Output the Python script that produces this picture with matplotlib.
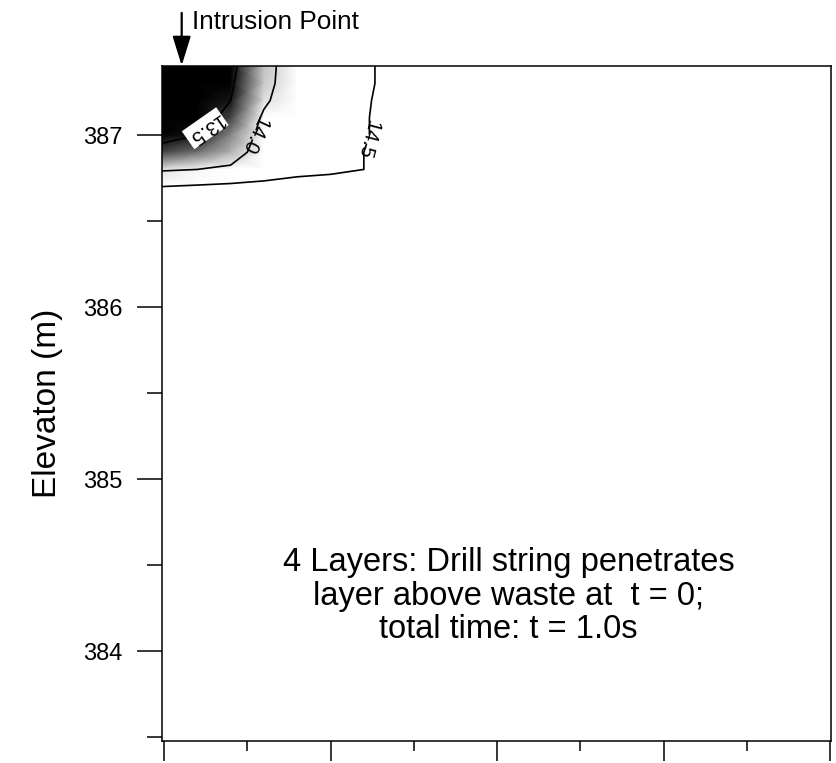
import numpy as np
import matplotlib.pyplot as plt

plt.rcParams['font.family'] = ['Liberation Sans', 'DejaVu Sans']

# Pressure field near the intrusion point
x_nodes = [-0.02, 0.2, 0.4, 0.6, 0.8, 1.0, 1.2, 1.4, 1.6]
y_nodes = [387.41, 387.30, 387.20, 387.10, 387.00, 386.90, 386.80, 386.70, 386.60]
pressure = [
    [12.90, 13.10, 13.40, 13.88, 14.20, 14.30, 14.45, 14.60, 14.70],
    [12.95, 13.15, 13.45, 13.90, 14.20, 14.30, 14.45, 14.60, 14.70],
    [13.05, 13.25, 13.50, 13.95, 14.22, 14.32, 14.47, 14.60, 14.70],
    [13.20, 13.35, 13.60, 14.05, 14.25, 14.35, 14.48, 14.60, 14.70],
    [13.40, 13.50, 13.75, 14.10, 14.28, 14.38, 14.48, 14.60, 14.70],
    [13.60, 13.70, 13.85, 14.15, 14.30, 14.40, 14.50, 14.60, 14.70],
    [13.95, 14.00, 14.05, 14.20, 14.35, 14.42, 14.50, 14.60, 14.70],
    [14.50, 14.55, 14.60, 14.65, 14.70, 14.70, 14.70, 14.70, 14.70],
    [14.75, 14.75, 14.75, 14.75, 14.75, 14.75, 14.75, 14.75, 14.75],
]
contour_levels = [13.5, 14.0, 14.5]
label_spots = [(0.28, 387.03), (0.55, 387.00), (1.19, 386.98)]
label_angles = [-145, -115, -105]

y_major = [384, 385, 386, 387]
y_minor = [383.5, 384.5, 385.5, 386.5]
x_major = [0, 1, 2, 3, 4]
x_minor = [0.5, 1.5, 2.5, 3.5]

note = '4 Layers: Drill string penetrates\nlayer above waste at  t = 0;\ntotal time: t = 1.0s'

fig = plt.figure(figsize=(8.37, 7.63), dpi=100)
ax = fig.add_axes([0.193, 0.0288, 0.7993, 0.8853])

X, Y = np.meshgrid(x_nodes, y_nodes)
P = np.array(pressure)

ax.pcolormesh(X, Y, P, cmap='gray', vmin=13.45, vmax=14.02, shading='gouraud', zorder=1)
cs = ax.contour(X, Y, P, levels=contour_levels, colors='k', linewidths=1.2, zorder=2)
labels = ax.clabel(cs, fmt='%.1f', fontsize=14.5, inline=True, manual=label_spots, inline_spacing=3)
for t, ang in zip(labels, label_angles):
    t.set_rotation(ang)
labels[0].set_bbox(dict(facecolor='white', edgecolor='none', pad=1))

ax.set_xlim(-0.015, 4.003)
ax.set_ylim(383.477, 387.404)

ax.set_yticks(y_major)
ax.set_yticks(y_minor, minor=True)
ax.set_xticks(x_major)
ax.set_xticks(x_minor, minor=True)
ax.set_xticklabels([])
ax.tick_params(axis='y', which='major', length=18, width=1.1, pad=10, labelsize=17)
ax.tick_params(axis='y', which='minor', length=11, width=1.1)
ax.tick_params(axis='x', which='major', length=14.5, width=1.1)
ax.tick_params(axis='x', which='minor', length=7, width=1.1)
for s in ax.spines.values():
    s.set_linewidth(1.1)

ax.set_ylabel('Elevaton (m)', fontsize=24)
ax.yaxis.set_label_coords(-0.148, 0.5)

# intrusion point marker above the plot
ax.annotate('', xy=(0.106, 387.404), xytext=(0.106, 387.71),
            arrowprops=dict(arrowstyle='-|>,head_width=0.28,head_length=0.9',
                            mutation_scale=20, lw=1.6, color='k',
                            shrinkA=0, shrinkB=0),
            annotation_clip=False)
ax.text(0.168, 387.66, 'Intrusion Point', fontsize=18.8, ha='left', va='center', clip_on=False)

ax.text(2.07, 384.32, note, ha='center', va='center', fontsize=23.5, linespacing=1.12)

fig.savefig('out.png', dpi=100)
